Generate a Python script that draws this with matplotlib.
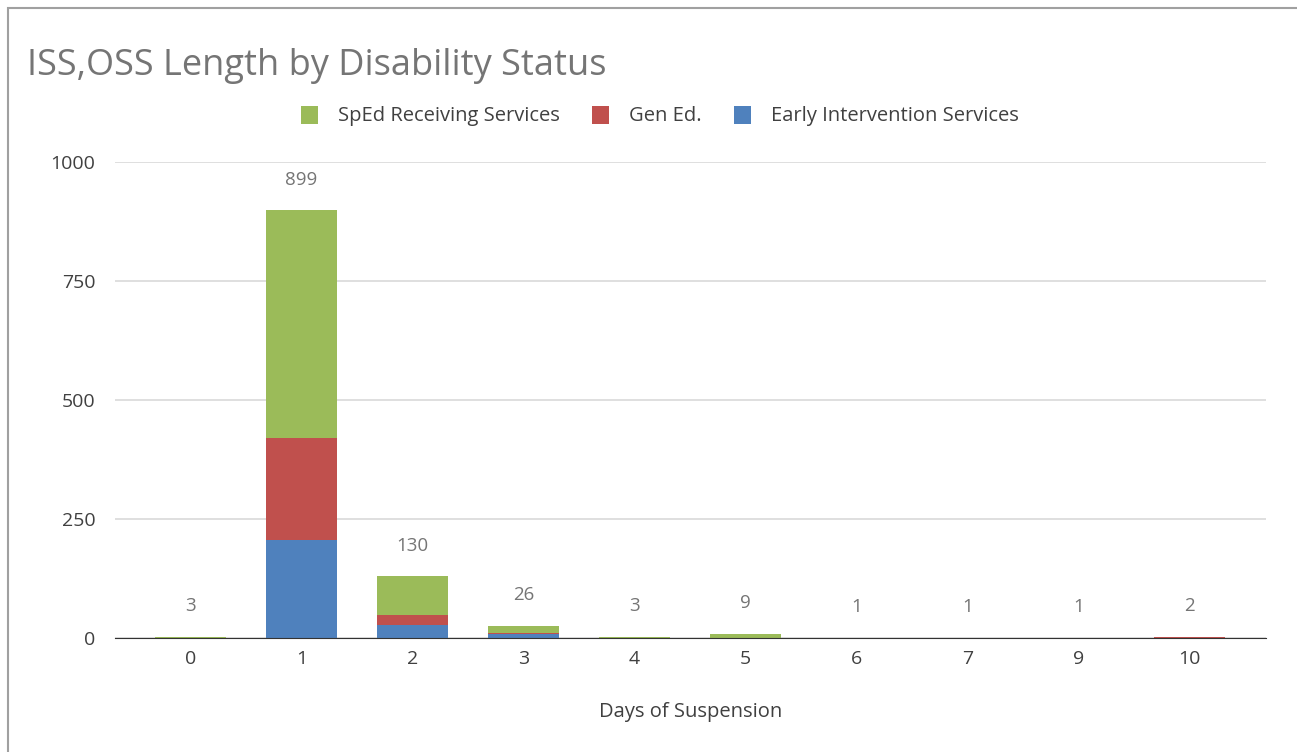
import numpy as np
import matplotlib.pyplot as plt
from matplotlib.patches import Rectangle

plt.rcParams['font.family'] = ['Open Sans', 'DejaVu Sans']

days = ['0', '1', '2', '3', '4', '5', '6', '7', '9', '10']
early = np.array([0, 206, 28, 8, 0, 0, 1, 1, 1, 0])
gen_ed = np.array([0, 214, 20, 3, 0, 0, 0, 0, 0, 2])
sped = np.array([3, 479, 82, 15, 3, 9, 0, 0, 0, 0])
totals = early + gen_ed + sped

c_green = '#9BBB59'
c_red = '#C0504D'
c_blue = '#4F81BD'
grey = '#757575'
dark = '#404040'

fig = plt.figure(figsize=(12.97, 7.52), dpi=100)
ax = fig.add_axes([115 / 1297, 114 / 752, (1266 - 115) / 1297, 476 / 752])

x = np.arange(len(days))
w = 0.64
ax.bar(x, early, w, color=c_blue, label='Early Intervention Services', zorder=3)
ax.bar(x, gen_ed, w, bottom=early, color=c_red, label='Gen Ed.', zorder=3)
ax.bar(x, sped, w, bottom=early + gen_ed, color=c_green, label='SpEd Receiving Services', zorder=3)

# totals above each stack
for xi, t in zip(x, totals):
    ax.annotate(str(t), (xi, t), xytext=(0, 22), textcoords='offset points',
                ha='center', va='center', fontsize=13.5, color=grey)

ax.set_xlim(-0.68, 9.69)
ax.set_ylim(0, 1000)
ax.set_yticks([0, 250, 500, 750, 1000])
ax.set_xticks(x, days)
ax.tick_params(axis='both', length=0, labelsize=14, labelcolor=dark)
ax.tick_params(axis='y', pad=14)
ax.tick_params(axis='x', pad=9)
ax.grid(axis='y', color='#d9d9d9', linewidth=1.2, zorder=0)
for s in ['top', 'right', 'left']:
    ax.spines[s].set_visible(False)
ax.spines['bottom'].set_color('#333333')
ax.spines['bottom'].set_zorder(4)

ax.set_xlabel('Days of Suspension', fontsize=14.5, color=dark, labelpad=24)

handles, labels = ax.get_legend_handles_labels()
fig.legend(handles[::-1], labels[::-1], loc='center', bbox_to_anchor=(660 / 1297, 1 - 116 / 752),
           ncol=3, frameon=False, fontsize=14.5, handlelength=0.85, handleheight=1.0,
           handletextpad=1.0, columnspacing=1.6, labelcolor=dark)

fig.text(27 / 1297, 1 - 66 / 752, 'ISS,OSS Length by Disability Status', fontsize=26,
         color=grey, ha='left', va='center')

fig.patches.append(Rectangle((8 / 1297, -0.1), 1.2, 1 - 8 / 752 + 0.1, transform=fig.transFigure,
                             fill=False, edgecolor='#a0a0a0', linewidth=1.5))

fig.savefig('out.png', dpi=100)
